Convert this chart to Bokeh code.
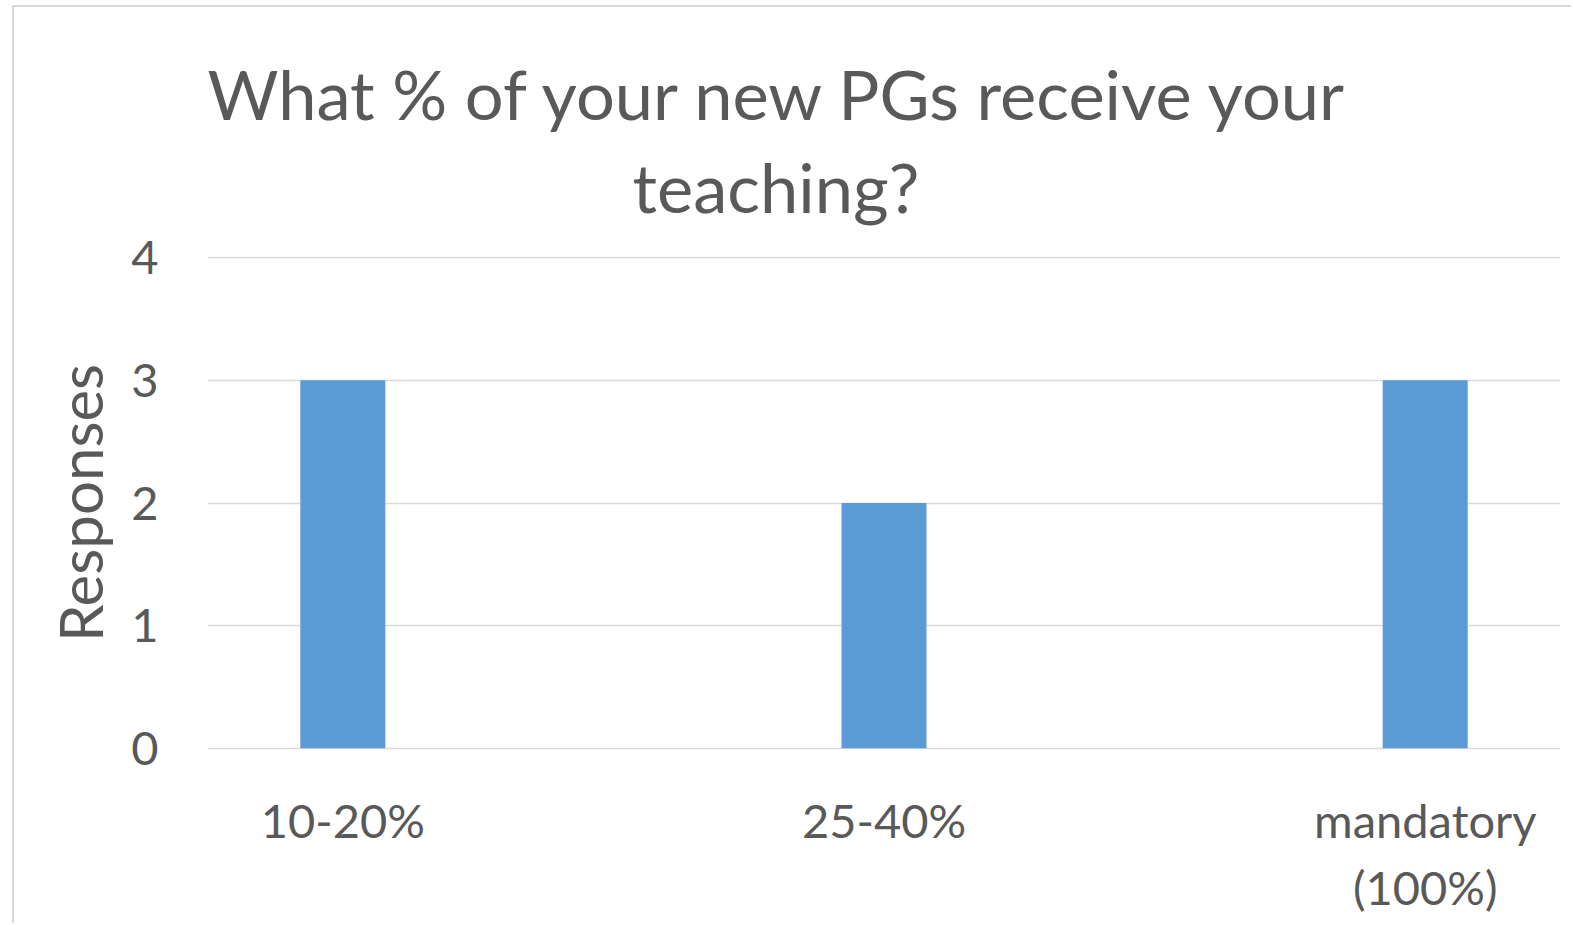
from bokeh.plotting import figure
from bokeh.models import Range1d, FixedTicker, Title
from bokeh.embed import file_html
from bokeh.resources import INLINE

categories = ["10-20%", "25-40%", "mandatory\n(100%)"]
responses = [3, 2, 3]
y_ticks = [0, 1, 2, 3, 4]
title_lines = ["What % of your new PGs receive your", "teaching?"]

FONT = "Lato"
TXT = "#595959"
GRID = "#D9D9D9"
BAR = "#5B9BD5"

xs = list(range(len(categories)))

p = figure(width=1559, height=918, output_backend="svg", toolbar_location=None,
           x_range=Range1d(-0.25, len(categories) - 0.75),
           y_range=Range1d(-0.01, 4.01))
p.styles = {"margin-left": "12px", "margin-top": "5px",
            "border-left": "2px solid #D9D9D9", "border-top": "2px solid #D9D9D9"}
p.min_border_left = 193
p.min_border_right = 13
p.min_border_top = 249
p.min_border_bottom = 176
p.outline_line_color = None
p.background_fill_color = "white"
p.border_fill_color = "white"

p.vbar(x=xs, top=responses, width=0.157, color=BAR, line_color=None)

p.add_layout(Title(text=title_lines[1], align="left", offset=425,
                   text_font=FONT, text_font_size="68.6px", text_font_style="normal",
                   text_color=TXT, standoff=57), "above")
p.add_layout(Title(text=title_lines[0], align="left", offset=0,
                   text_font=FONT, text_font_size="68.6px", text_font_style="normal",
                   text_color=TXT, standoff=-40), "above")

p.xaxis.ticker = FixedTicker(ticks=xs)
p.xaxis.major_label_overrides = {i: c for i, c in zip(xs, categories)}
p.xaxis.major_label_text_font = FONT
p.xaxis.major_label_text_font_size = "47px"
p.xaxis.major_label_text_color = TXT
p.xaxis.major_label_standoff = 36
p.xaxis.axis_line_color = None
p.xaxis.major_tick_line_color = None
p.xaxis.minor_tick_line_color = None

p.yaxis.ticker = FixedTicker(ticks=y_ticks)
p.yaxis.axis_label = "Responses"
p.yaxis.axis_label_text_font = FONT
p.yaxis.axis_label_text_font_size = "60px"
p.yaxis.axis_label_text_font_style = "normal"
p.yaxis.axis_label_text_color = TXT
p.yaxis.axis_label_standoff = 12
p.yaxis.major_label_text_font = FONT
p.yaxis.major_label_text_font_size = "47px"
p.yaxis.major_label_text_color = TXT
p.yaxis.major_label_standoff = 43
p.yaxis.axis_line_color = None
p.yaxis.major_tick_line_color = None
p.yaxis.minor_tick_line_color = None

p.xgrid.grid_line_color = None
p.ygrid.grid_line_color = GRID
p.ygrid.grid_line_width = 1.5

open("out.html", "w").write(file_html(p, INLINE))
